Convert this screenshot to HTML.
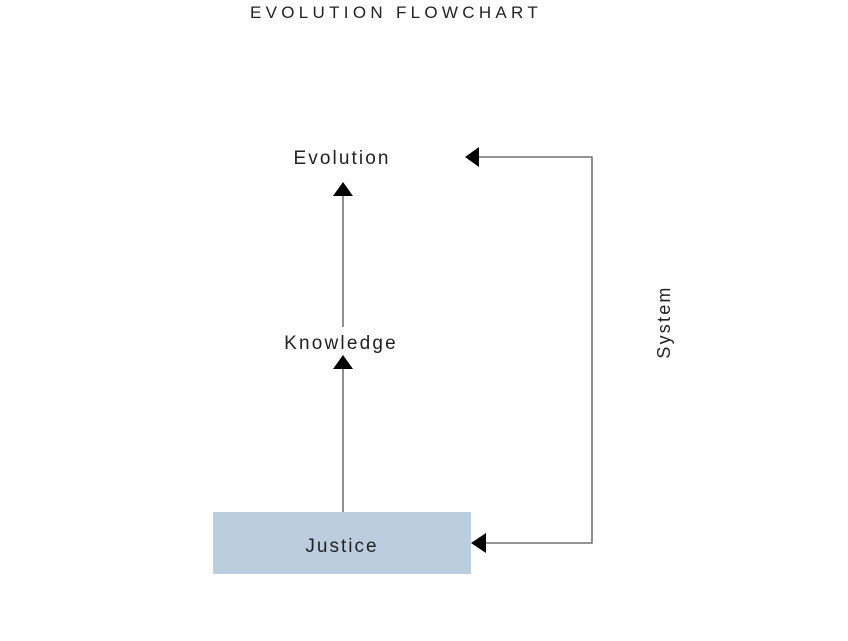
<!DOCTYPE html>
<html><head><style>
body{margin:0;width:848px;height:636px;background:#fff;overflow:hidden;font-family:"Liberation Sans",sans-serif;}
</style></head><body>
<svg width="848" height="636" xmlns="http://www.w3.org/2000/svg" font-family="Liberation Sans, sans-serif">
<text x="396" y="18" text-anchor="middle" font-size="17" letter-spacing="4.3" fill="#222">EVOLUTION FLOWCHART</text>
<rect x="213" y="512" width="258" height="62" fill="#bccddf"/>
<text x="342" y="552" text-anchor="middle" font-size="19" letter-spacing="2" fill="#222">Justice</text>
<text x="341" y="349" text-anchor="middle" font-size="19" letter-spacing="2.2" fill="#222">Knowledge</text>
<text x="342" y="164" text-anchor="middle" font-size="19" letter-spacing="2.1" fill="#222">Evolution</text>
<text transform="translate(670,322) rotate(-90)" text-anchor="middle" font-size="18" letter-spacing="2.2" fill="#222">System</text>
<g stroke="#555" stroke-width="1.3" fill="none">
<line x1="343" y1="512" x2="343" y2="368"/>
<line x1="343" y1="327" x2="343" y2="195"/>
<polyline points="486,543 592,543 592,157 479,157"/>
</g>
<g fill="#000">
<polygon points="343,355 333,369 353,369"/>
<polygon points="343,182 333,196 353,196"/>
<polygon points="465,157 479,147 479,167"/>
<polygon points="471,543 486,533 486,553"/>
</g>
</svg>
</body></html>
